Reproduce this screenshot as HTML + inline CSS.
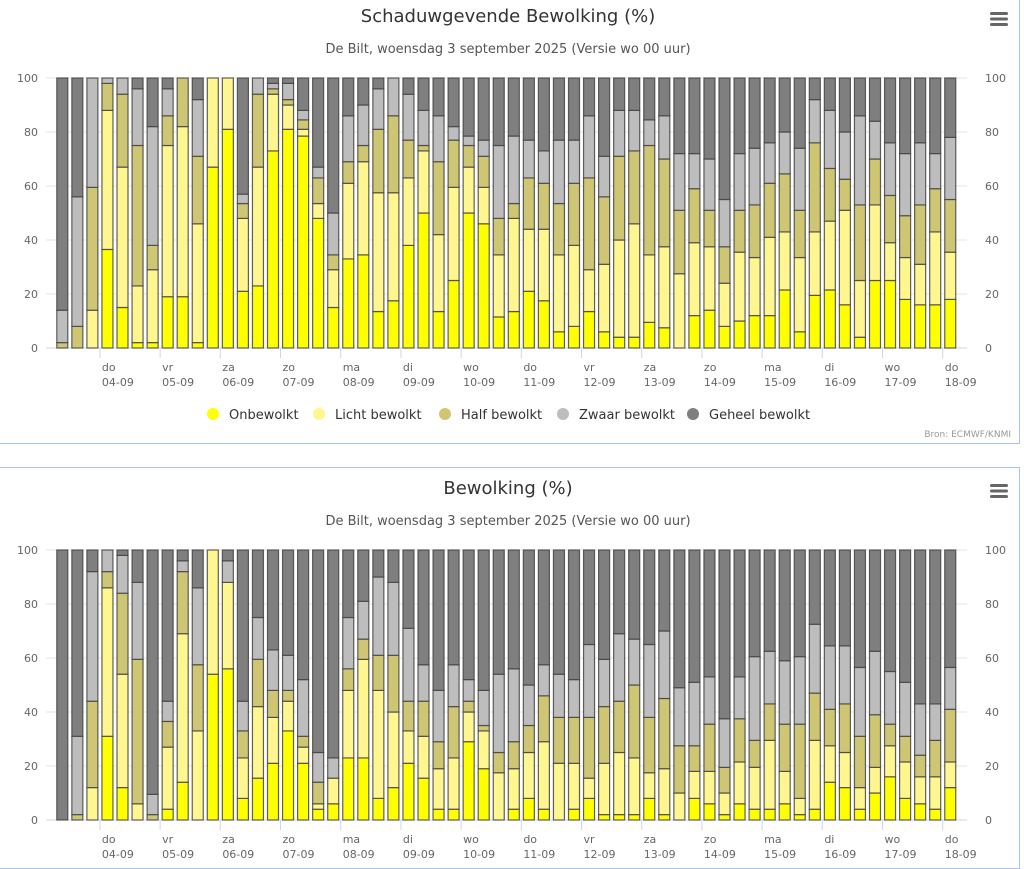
<!DOCTYPE html>
<html><head><meta charset="utf-8">
<style>
html,body{margin:0;padding:0;background:#fff;width:1024px;height:858px;overflow:hidden;font-family:"DejaVu Sans",sans-serif;}
.box{position:absolute;left:0;width:1019px;border:1px solid #a9c3ea;border-left:none;}
svg{position:absolute;left:0;top:0;}
</style></head>
<body>
<div class="box" style="top:-1px;height:443px;"></div>
<div class="box" style="top:467px;height:400px;"></div>
<svg id="s" width="1024" height="858"></svg>
<script>
const categories = Array.from({length:60},(_,i)=>i);
const dayLabels = ["do","vr","za","zo","ma","di","wo","do","vr","za","zo","ma","di","wo","do"];
const dateLabels = ["04-09","05-09","06-09","07-09","08-09","09-09","10-09","11-09","12-09","13-09","14-09","15-09","16-09","17-09","18-09"];
const yTicks = [0,20,40,60,80,100];
const seriesNames = ["Onbewolkt","Licht bewolkt","Half bewolkt","Zwaar bewolkt","Geheel bewolkt"];
const seriesColors = ["#ffff00","#fff68f","#cec673","#bdbdbd","#7f7f7f"];

// Chart 1: Schaduwgevende bewolking
const s1Onb = [0,0,0,36.5,15,2,2,19,19,2,67,81,21,23,73,81,78.5,48,15,33,34.5,13.5,17.5,38,50,13.5,25,50,46,11.5,13.5,21,17.5,6,8,13.5,6,4,4,9.5,7.5,0,12,14,8,10,12,12,21.5,6,19.5,21.5,16,4,25,25,18,16,16,18];
const s1Licht = [0,0,14,51.5,52,21,27,56,63,44,33,19,27,44,21,9,2.5,5.5,14,28,34.5,44,40,25,23,28.5,34.5,17,13.5,23,34.5,23,26.5,28.5,30,15.5,25,36,42,25,30,27.5,27,23.5,16,25.5,21.5,29,21.5,27.5,23.5,25.5,35,21,28,14,15.5,15,27,17.5];
const s1Half = [2,8,45.5,10,27,52,9,11,18,25,0,0,5.5,27,2,2,3.5,9.5,5.5,8,6,23.5,28.5,14,2,27,17.5,8,11.5,13.5,5.5,19,17,19,23,34,25,31,27,40.5,32.5,23.5,20,13.5,13.5,15.5,19.5,20,21.5,17.5,33,19.5,11.5,28,17,17.5,15.5,22,16,19.5];
const s1Zwaar = [12,48,40.5,2,6,21,44,10,0,21,0,0,3.5,6,2,6,3.5,4,15.5,17,15,15,14,17,13,17,5,3.5,6,27,25,14,12,23.5,16,23,15,17,15,9.5,16,21,13,19,17.5,21,21,15,15.5,23,16,21.5,17.5,33,14,19.5,23,23,13,23];
const s1Geheel = [86,44,0,0,0,4,18,4,0,8,0,0,43,0,2,2,12,33,50,14,10,4,0,6,12,14,18,21.5,23,25,21.5,23,27,23,23,14,29,12,12,15.5,14,28,28,30,45,28,26,24,20,26,8,12,20,14,16,24,28,24,28,22];

// Chart 2: Bewolking
const s2Onb = [0,0,0,31,12,0,0,4,14,0,54,56,8,15.5,21,33,21,4,6,23,23,8,12,21,15.5,4,4,29,19,0,4,8,4,0,4,8,2,2,2,8,2,0,8,6,2,6,4,4,6,2,4,14,12,4,10,16,8,6,4,12];
const s2Licht = [0,0,12,55,42,6,0,23,55,33,46,32,15,26.5,17,11,6,2,9.5,25,36.5,40,28,12,15.5,15,19,11,14,17.5,15,17,25,21,17,7.5,19,23,21,9.5,17,10,10,12,8,15.5,15.5,25.5,12,6,25.5,13.5,13,8,9.5,11.5,13.5,10,12,9.5];
const s2Half = [0,2,32,6,30,53.5,2,9.5,23,24.5,0,0,10,17.5,10,4,4,8,0,8,7.5,13,21,11,13,10,19,4,2,7.5,10,10,17,17,17,22.5,21,19,27,20.5,26,17.5,9.5,17.5,9.5,16,10,13.5,17.5,27.5,17.5,13.5,18,19,19.5,8,9.5,8,13.5,19.5];
const s2Zwaar = [0,29,48,8,14,28.5,7.5,7.5,4,28.5,0,8,11,15.5,15,13,21,11,7.5,19,14,29,27,27,13.5,19,15.5,8,13,29,27,15,11.5,16,14,27,17.5,25,17,27,25,21.5,23.5,17.5,18,15.5,31,19.5,23.5,25,25.5,23.5,21.5,25.5,23.5,19.5,20,19,13.5,15.5];
const s2Geheel = [100,69,8,0,2,12,90.5,56,4,14,0,4,56,25,37,39,48,75,77,25,19,10,12,29,42.5,52,42.5,48,52,46,44,50,42.5,46,48,35,40.5,31,33,35,30,51,49,47,62.5,47,39.5,37.5,41,39.5,27.5,35.5,35.5,43.5,37.5,45,49,57,57,43.5];

const NS="http://www.w3.org/2000/svg";
const svg=document.getElementById('s');
const FONT='"DejaVu Sans","Liberation Sans",sans-serif';
function mk(tag,attrs,parent){const e=document.createElementNS(NS,tag);for(const k in attrs)e.setAttribute(k,attrs[k]);(parent||svg).appendChild(e);return e;}
function txt(x,y,s,size,fill,anchor,parent){const t=mk('text',{x:x,y:y,'font-size':size,fill:fill,'text-anchor':anchor||'start','font-family':FONT},parent);t.textContent=s;return t;}

function drawChart(top, title, series, idx){
  const g=mk('g',{});
  
  
  const y0=top+348, yH=270;
  const yScale=v=>y0-v/100*yH;
  const xScale=i=>62.3+i*15.05;
  const t=txt(508,top+22,title,18,'#333','middle',g);
  
  
  const st=txt(508,top+53,'De Bilt, woensdag 3 september 2025 (Versie wo 00 uur)',13,'#555','middle',g);
  
  
  const m=mk('g',{},g);
  
  
  for(let k=0;k<3;k++) mk('rect',{x:990,y:top+12+k*5.5,width:18,height:3,rx:1.5,fill:'#666'},m);
  yTicks.forEach(v=>{
    const y=yScale(v);
    const gl=mk('line',{x1:46,x2:967,y1:y,y2:y,stroke:v===0?'#ccd6eb':'#e6e6e6','stroke-width':1},g);
    
    
    const l=txt(38,y+4,String(v),11,'#666','end',g);
    
    
    const r=txt(985,y+4,String(v),11,'#666','start',g);
    
    
  });
  dayLabels.forEach((d,k)=>{
    const x=(xScale(2)+xScale(3))/2+k*4*15.05;
    const tk=mk('line',{x1:x,x2:x,y1:y0,y2:y0+10,stroke:'#ccd6eb'},g);
    
    
    const a=txt(x+2,y0+23,d,11,'#666','start',g);
    
    
    const b=txt(x+2,y0+38,dateLabels[k],11,'#666','start',g);
    
    
  });
  categories.forEach(i=>{
    let cum=0;
    series.forEach((arr,si)=>{
      const v=arr[i];
      if(v<=0) return;
      const yTop=yScale(cum+v), yBot=yScale(cum);
      const r=mk('rect',{x:xScale(i)-5.5,y:yTop,width:11,height:yBot-yTop,fill:seriesColors[si],stroke:'#444','stroke-width':1.2,'stroke-opacity':0.85},g);
      
      
      cum+=v;
    });
  });
}
drawChart(0,'Schaduwgevende Bewolking (%)',[s1Onb,s1Licht,s1Half,s1Zwaar,s1Geheel],1);
drawChart(472,'Bewolking (%)',[s2Onb,s2Licht,s2Half,s2Zwaar,s2Geheel],2);

const legX=[213,319,445,563,693];
seriesNames.forEach((n,i)=>{
  const lg=mk('g',{});
  
  
  mk('circle',{cx:legX[i],cy:414,r:6,fill:seriesColors[i]},lg);
  txt(legX[i]+16,419,n,13,'#333','start',lg);
});
const src=txt(1011,437,'Bron: ECMWF/KNMI',9,'#999','end');


</script>
</body></html>
